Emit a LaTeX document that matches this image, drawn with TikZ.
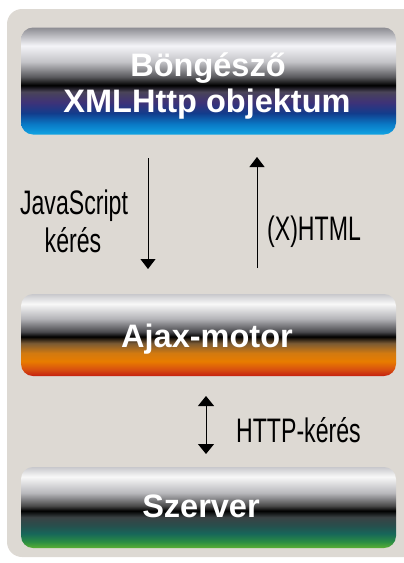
\documentclass[tikz,border=0pt]{standalone}
\usepackage{fontspec}
\setmainfont{Liberation Sans}
\usetikzlibrary{arrows.meta}
\definecolor{bgc}{HTML}{DDD9D3}
% box 1 colours
\definecolor{aA}{HTML}{8C8C92}\definecolor{aB}{HTML}{F4F4F8}\definecolor{aC}{HTML}{C4C4C8}
\definecolor{aD}{HTML}{5A5A5E}\definecolor{aE}{HTML}{000000}\definecolor{aF}{HTML}{4A4458}
\definecolor{aG}{HTML}{3E3278}\definecolor{aH}{HTML}{123C8C}\definecolor{aI}{HTML}{0A78C4}
\definecolor{aJ}{HTML}{10A4E4}
% box 2 colours
\definecolor{bA}{HTML}{C8C8CC}\definecolor{bB}{HTML}{F8F8F8}\definecolor{bC}{HTML}{B4B4B8}
\definecolor{bD}{HTML}{4A4A4E}\definecolor{bE}{HTML}{000000}\definecolor{bF}{HTML}{7A5A34}
\definecolor{bG}{HTML}{D27A10}\definecolor{bH}{HTML}{E87C00}\definecolor{bI}{HTML}{D85010}
\definecolor{bJ}{HTML}{C42010}
% box 3 colours
\definecolor{cA}{HTML}{C8C8CC}\definecolor{cB}{HTML}{F8F8F8}\definecolor{cC}{HTML}{B8B8BC}
\definecolor{cD}{HTML}{484848}\definecolor{cE}{HTML}{000000}\definecolor{cF}{HTML}{3A4244}
\definecolor{cG}{HTML}{284E4C}\definecolor{cH}{HTML}{17665A}\definecolor{cI}{HTML}{2A8C44}
\definecolor{cJ}{HTML}{5AB034}
\pgfdeclareverticalshading{bluebox}{100bp}{color(0bp)=(aJ); color(25bp)=(aJ); color(30bp)=(aI);
 color(35bp)=(aH); color(40bp)=(aG); color(45bp)=(aF); color(48bp)=(aE); color(52bp)=(aD);
 color(59bp)=(aC); color(66.5bp)=(aB); color(75bp)=(aA); color(100bp)=(aA)}
\pgfdeclareverticalshading{orangebox}{100bp}{color(0bp)=(bJ); color(25bp)=(bJ); color(29bp)=(bI);
 color(34bp)=(bH); color(39bp)=(bG); color(45bp)=(bF); color(49bp)=(bE); color(52bp)=(bD);
 color(60bp)=(bC); color(69bp)=(bB); color(75bp)=(bA); color(100bp)=(bA)}
\pgfdeclareverticalshading{greenbox}{100bp}{color(0bp)=(cJ); color(25bp)=(cJ); color(29bp)=(cI);
 color(34bp)=(cH); color(39bp)=(cG); color(44bp)=(cF); color(48bp)=(cE); color(51bp)=(cD);
 color(59bp)=(cC); color(69bp)=(cB); color(75bp)=(cA); color(100bp)=(cA)}
\tikzset{
  box/.style={rectangle, rounded corners=12pt, minimum width=375pt, inner sep=0pt, draw=none},
  boxtext/.style={text=white, font=\bfseries\fontsize{32.5}{36}\selectfont, anchor=base, inner sep=0pt},
  lbl/.style={font=\fontsize{34}{40}\selectfont, xscale=0.68, transform shape, inner sep=0pt},
  arr/.style={line width=1pt, -{Triangle[width=15pt,length=10pt]}},
  darr/.style={line width=1pt, {Triangle[width=16pt,length=10pt]}-{Triangle[width=16pt,length=10pt]}}
}
\begin{document}
\begin{tikzpicture}[x=1pt,y=-1pt]
\useasboundingbox (0,0) rectangle (404,563);
\fill[bgc, rounded corners=15pt] (7,280) -- (7,9) -- (420,9) -- (420,557) -- (7,557) -- cycle;
% boxes
\node[box, shading=bluebox, minimum height=107pt] (browser) at (208.5,81) {};
\node[box, shading=orangebox, minimum height=82pt] (ajax) at (208.5,335) {};
\node[box, shading=greenbox, minimum height=81pt] (server) at (208.5,507.5) {};
% box texts
\node[boxtext] (t1) at (208,76) {Böngésző};
\node[boxtext] (t2) at (207,112) {XMLHttp objektum};
\node[boxtext] (t3) at (207,347) {Ajax-motor};
\node[boxtext] (t4) at (201,517) {Szerver};
% arrow ends
\coordinate (d1) at (148,158);
\coordinate (d2) at (148,269);
\coordinate (u1) at (257,268);
\coordinate (u2) at (257,157);
\coordinate (h1) at (206,396);
\coordinate (h2) at (206,454);
\draw[arr] (d1) -- (d2);
\draw[arr] (u1) -- (u2);
\draw[darr] (h1) -- (h2);
% labels
\node[lbl, anchor=base] (js1) at (74,214) {JavaScript};
\node[lbl, anchor=base] (js2) at (73,252) {kérés};
\node[lbl, anchor=base west] (xh) at (267,240) {(X)HTML};
\node[lbl, anchor=base west] (hk) at (236,442) {HTTP-kérés};
\end{tikzpicture}
\end{document}
